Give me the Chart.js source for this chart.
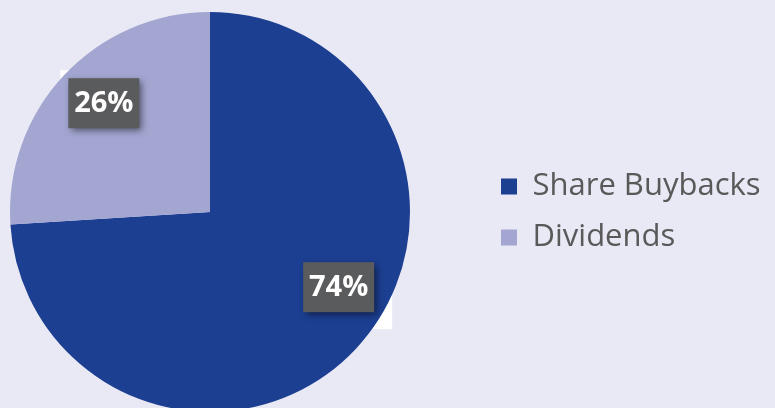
<!DOCTYPE html>
<html>
<head>
<meta charset="utf-8">
<script src="https://cdn.jsdelivr.net/npm/chart.js@4.4.1/dist/chart.umd.min.js"></script>
<style>
  html,body{margin:0;padding:0;background:#e9e9f5;overflow:hidden;}
  #wrap{width:775px;height:424px;position:relative;}
</style>
</head>
<body>
<div id="wrap"><canvas id="pieC"></canvas></div>
<script>
const categories=["Share Buybacks","Dividends"];
const shares=[74,26];
const sliceColors=["#1c3f91","#a3a6d1"];

// where each % box sits: angle shift from the slice middle (deg) and fraction of radius
const labelSpots=[{turn:-12.9,r:0.745},{turn:2.5,r:0.76}];
const BOX_W=71, BOX_H=50;

function boxCenter(arc,i){
    const p=arc.getProps(["x","y","startAngle","endAngle","outerRadius"],true);
    const a=(p.startAngle+p.endAngle)/2+labelSpots[i].turn*Math.PI/180;
    const r=p.outerRadius*labelSpots[i].r;
    return {x:p.x+Math.cos(a)*r,y:p.y+Math.sin(a)*r};
}

const pctBoxes={
    id:"pctBoxes",
    afterLayout(chart){
        // square plot area on the left, legend pushed to the right side
        const ca=chart.chartArea;
        ca.right=ca.left+ca.height;
        ca.width=ca.height;
        const lg=chart.legend;
        const w=lg.width;
        lg.left=481;
        lg.right=lg.left+w;
    },
    beforeDatasetsDraw(chart){
        const ctx=chart.ctx;
        const meta=chart.getDatasetMeta(0);
        ctx.save();
        ctx.fillStyle="#ffffff";
        meta.data.forEach((arc,i)=>{
            const c=boxCenter(arc,i);
            ctx.fillRect(c.x-BOX_W/2-8,c.y-BOX_H/2-8,BOX_W+26,BOX_H+25);
        });
        ctx.restore();
    },
    afterDatasetsDraw(chart){
        const ctx=chart.ctx;
        const meta=chart.getDatasetMeta(0);
        const vals=chart.data.datasets[0].data;
        const total=vals.reduce((s,v)=>s+v,0);
        meta.data.forEach((arc,i)=>{
            const c=boxCenter(arc,i);
            ctx.save();
            ctx.shadowColor="rgba(0,0,0,0.5)";
            ctx.shadowBlur=7;
            ctx.shadowOffsetX=3;
            ctx.shadowOffsetY=3;
            ctx.fillStyle="#5a5b5d";
            ctx.fillRect(c.x-BOX_W/2,c.y-BOX_H/2,BOX_W,BOX_H);
            ctx.restore();
            ctx.save();
            ctx.fillStyle="#ffffff";
            ctx.font="bold 29px 'Open Sans'";
            ctx.textAlign="center";
            ctx.textBaseline="middle";
            ctx.fillText(Math.round(vals[i]/total*100)+"%",c.x,c.y+1);
            ctx.restore();
        });
    }
};

var pie=new Chart(document.getElementById("pieC"),{
    type:"pie",
    data:{
        labels:categories,
        datasets:[{
            data:shares,
            backgroundColor:sliceColors,
            borderWidth:0
        }]
    },
    options:{
        responsive:true,
        maintainAspectRatio:false,
        animation:false,
        events:[],
        layout:{padding:{left:10,top:12,bottom:12,right:0}},
        plugins:{
            tooltip:{enabled:false},
            legend:{
                position:"right",
                labels:{
                    boxWidth:16,
                    boxHeight:16,
                    padding:20,
                    color:"#595959",
                    font:{family:"'Open Sans'",size:31}
                }
            }
        }
    },
    plugins:[pctBoxes]
});
</script>
</body>
</html>
